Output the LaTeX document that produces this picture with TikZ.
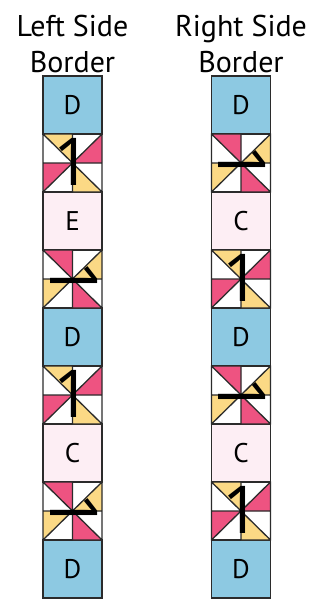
\documentclass[tikz,border=0pt]{standalone}
\usepackage{fontspec}
\setmainfont{PT Sans}
\newfontfamily\onefont{Open Sans}
\usetikzlibrary{positioning}
\definecolor{dblue}{HTML}{8DC9E2}
\definecolor{lpink}{HTML}{FDEEF4}
\definecolor{hpink}{HTML}{EE5381}
\definecolor{pyellow}{HTML}{FBD985}
\definecolor{edge}{HTML}{2B2B2B}

\begin{document}
\begin{tikzpicture}[x=1pt, y=1pt,
  blk/.style={draw=edge, line width=1.3pt, outer sep=0pt, inner sep=0pt, minimum width=59pt, minimum height=58pt, font=\fontsize{27}{27}\selectfont},
  dblk/.style={blk, fill=dblue},
  cblk/.style={blk, fill=lpink},
  pslot/.style={blk, draw=none},
  hdr/.style={align=center, inner sep=0pt, font=\fontsize{30}{36}\selectfont},
  pics/pwheel/.style n args={3}{code={
    \fill[#1] (-29.5,29) -- (0,29) -- (0,0) -- cycle;
    \fill[#1] (0,-29) -- (29.5,-29) -- (0,0) -- cycle;
    \fill[#2] (29.5,29) -- (29.5,0) -- (0,0) -- cycle;
    \fill[#2] (-29.5,0) -- (-29.5,-29) -- (0,0) -- cycle;
    \draw[edge, line width=1.3pt] (-29.5,-29) rectangle (29.5,29)
      (-29.5,0) -- (29.5,0) (0,-29) -- (0,29)
      (-29.5,-29) -- (29.5,29) (-29.5,29) -- (29.5,-29);
    \begin{scope}[rotate=#3, transform shape]
      \node[font=\onefont\fontsize{66}{66}\selectfont, anchor=base, inner sep=0pt] (-num) at (0,-22.5) {1};
    \end{scope}
  }}
]
  \useasboundingbox (0,0) rectangle (324,-599);

  % Left side border
  \node[dblk] (l1) at (72.5,-105) {D};
  \node[pslot, below=0pt of l1] (l2) {};
  \node[cblk, below=0pt of l2] (l3) {E};
  \node[pslot, below=0pt of l3] (l4) {};
  \node[dblk, below=0pt of l4] (l5) {D};
  \node[pslot, below=0pt of l5] (l6) {};
  \node[cblk, below=0pt of l6] (l7) {C};
  \node[pslot, below=0pt of l7] (l8) {};
  \node[dblk, below=0pt of l8] (l9) {D};
  \pic (l2p) at (l2) {pwheel={pyellow}{hpink}{0}};
  \pic (l4p) at (l4) {pwheel={hpink}{pyellow}{-90}};
  \pic (l6p) at (l6) {pwheel={pyellow}{hpink}{0}};
  \pic (l8p) at (l8) {pwheel={hpink}{pyellow}{-90}};
  \node[hdr, above=3pt of l1] (lhead) {Left Side\\Border};

  % Right side border
  \node[dblk] (r1) at (241,-105) {D};
  \node[pslot, below=0pt of r1] (r2) {};
  \node[cblk, below=0pt of r2] (r3) {C};
  \node[pslot, below=0pt of r3] (r4) {};
  \node[dblk, below=0pt of r4] (r5) {D};
  \node[pslot, below=0pt of r5] (r6) {};
  \node[cblk, below=0pt of r6] (r7) {C};
  \node[pslot, below=0pt of r7] (r8) {};
  \node[dblk, below=0pt of r8] (r9) {D};
  \pic (r2p) at (r2) {pwheel={hpink}{pyellow}{-90}};
  \pic (r4p) at (r4) {pwheel={pyellow}{hpink}{0}};
  \pic (r6p) at (r6) {pwheel={hpink}{pyellow}{-90}};
  \pic (r8p) at (r8) {pwheel={pyellow}{hpink}{0}};
  \node[hdr, above=3pt of r1] (rhead) {Right Side\\Border};

\end{tikzpicture}
\end{document}
